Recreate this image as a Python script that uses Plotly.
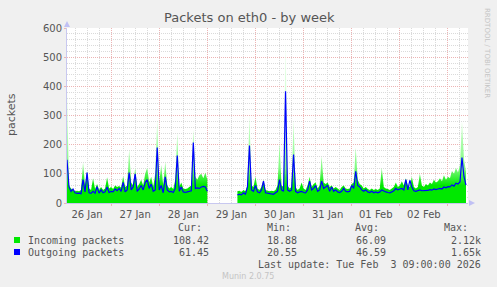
import plotly.graph_objects as go
import pandas as pd

# ---------------- data (hourly samples, Jan 26 02:00 -> Feb 3 09:00) ----------------
start_time = "2026-01-26 02:00"
n_points = 200
times = list(pd.date_range(start_time, periods=n_points, freq="h"))

incoming = [
    390, 60, 50, 45, 40, 42, 40, 45, 139, 60,
    110, 50, 45, 85, 48, 65, 45, 55, 45, 50,
    88, 50, 55, 48, 60, 55, 58, 52, 92, 55,
    60, 183, 70, 60, 120, 55, 65, 80, 60, 100,
    121, 70, 90, 55, 100, 285, 70, 130, 60, 141,
    60, 50, 55, 48, 80, 240, 55, 70, 50, 48,
    50, 55, 60, 252, 90, 80, 95, 100, 85, 105,
    80, None, None, None, None, None, None, None, None, None,
    None, None, None, None, None, 40, 42, 38, 45, 40,
    60, 300, 60, 55, 90, 50, 45, 55, 80, 45,
    42, 40, 42, 40, 45, 60, 207, 60, 55, 560,
    60, 50, 55, 285, 55, 45, 50, 70, 50, 45,
    60, 90, 55, 65, 70, 50, 60, 160, 70, 65,
    70, 55, 60, 50, 55, 50, 45, 55, 60, 50,
    48, 50, 65, 70, 190, 80, 65, 60, 50, 55,
    48, 45, 50, 45, 48, 45, 50, 121, 55, 50,
    48, 45, 50, 55, 70, 55, 60, 75, 60, 85,
    60, 55, 90, 55, 50, 55, 100, 60, 55, 65,
    60, 70, 65, 80, 70, 75, 85, 75, 95, 80,
    90, 85, 110, 100, 120, 105, 130, 280, 150, 108,
]

outgoing = [
    148, 55, 40, 48, 35, 33, 34, 32, 80, 38,
    104, 35, 33, 40, 34, 56, 34, 45, 35, 38,
    55, 36, 40, 38, 48, 42, 50, 40, 71, 38,
    45, 104, 45, 55, 100, 40, 48, 60, 45, 70,
    80, 50, 65, 40, 45, 190, 45, 60, 35, 90,
    45, 38, 40, 36, 50, 163, 40, 55, 38, 36,
    38, 40, 42, 207, 50, 52, 50, 55, 57, 55,
    40, None, None, None, None, None, None, None, None, None,
    None, None, None, None, None, 28, 30, 28, 35, 30,
    55, 197, 45, 40, 60, 38, 35, 45, 75, 35,
    34, 32, 33, 30, 35, 40, 80, 45, 40, 383,
    45, 40, 45, 166, 40, 35, 38, 40, 36, 35,
    45, 75, 45, 50, 60, 40, 45, 75, 50, 55,
    60, 40, 55, 40, 45, 38, 36, 40, 50, 40,
    38, 40, 60, 50, 109, 60, 55, 45, 40, 45,
    38, 36, 40, 35, 38, 35, 38, 45, 40, 38,
    36, 35, 38, 42, 50, 45, 48, 50, 45, 80,
    45, 78, 55, 42, 40, 42, 45, 42, 42, 44,
    43, 46, 44, 48, 46, 48, 50, 48, 55, 52,
    56, 55, 62, 58, 68, 65, 72, 156, 90, 61,
]

y_ticks = [0, 100, 200, 300, 400, 500, 600]

legend_names = ["Incoming packets", "Outgoing packets"]
legend_colors = ["#00e800", "#0000ff"]
stat_headers = ["Cur:", "Min:", "Avg:", "Max:"]
stats_in = ["108.42", "18.88", "66.09", "2.12k"]
stats_out = ["61.45", "20.55", "46.59", "1.65k"]
last_update = "Last update: Tue Feb\u00a0\u00a03 09:00:00 2026"

# ---------------- layout helpers (pixel -> paper) ----------------
L, R, T, B = 67, 468, 28, 203
W, H = 497, 287


def px(x):
    return (x - L) / (R - L)


def py(y):
    return (B - y) / (B - T)


def segments(xs, ys):
    """Split a series at missing samples so that fills/lines break there."""
    segs, cx, cy = [], [], []
    for xv, yv in zip(xs, ys):
        if yv is None:
            if cx:
                segs.append((cx, cy))
            cx, cy = [], []
        else:
            cx.append(xv)
            cy.append(yv)
    if cx:
        segs.append((cx, cy))
    return segs


TEXT = "#555555"
MONO = "DejaVu Sans Mono"
SANS = "DejaVu Sans"
GRID_MAJOR = "#ecb4b4"
GRID_MINOR = "#dadada"
DOTS = "1px,1px"

fig = go.Figure()

for sx, sy in segments(times, incoming):
    fig.add_trace(go.Scatter(
        x=sx, y=sy, mode="none", fill="tozeroy",
        fillgradient=dict(
            type="vertical", start=0, stop=600,
            colorscale=[[0, "#00e800"], [0.1, "#00e800"], [0.2, "#80fa80"],
                        [0.45, "#c8ffc8"], [1, "#f4fff4"]],
        ),
        hoverinfo="skip", showlegend=False,
    ))
for sx, sy in segments(times, outgoing):
    fig.add_trace(go.Scatter(
        x=sx, y=sy, mode="lines",
        line=dict(color="#0000ff", width=1.2),
        hoverinfo="skip", showlegend=False,
    ))

fig.update_layout(
    width=W, height=H,
    margin=dict(l=L, r=W - R, t=T, b=H - B, pad=0),
    paper_bgcolor="#f0f0f0", plot_bgcolor="#ffffff",
    showlegend=False,
)

fig.update_xaxes(
    type="date",
    range=["2026-01-26 02:00", "2026-02-03 10:00"],
    tick0="2026-01-26", dtick=86400000,
    ticklabelmode="period", tickformat="%d %b",
    showgrid=True, gridcolor=GRID_MAJOR, griddash=DOTS, gridwidth=1,
    minor=dict(dtick=6 * 3600000, tick0="2026-01-26", showgrid=True,
               gridcolor=GRID_MINOR, griddash=DOTS, gridwidth=1),
    ticks="outside", ticklen=2, tickcolor=GRID_MAJOR,
    showline=True, linecolor="#c8c8f0", linewidth=1,
    tickfont=dict(family=SANS, size=10, color=TEXT),
    zeroline=False,
)
fig.update_yaxes(
    range=[0, 600], tickvals=y_ticks,
    showgrid=True, gridcolor=GRID_MAJOR, griddash=DOTS, gridwidth=1,
    minor=dict(dtick=20, showgrid=True, gridcolor=GRID_MINOR, griddash=DOTS, gridwidth=1),
    ticks="outside", ticklen=2, tickcolor=GRID_MAJOR,
    showline=True, linecolor="#c8c8f0", linewidth=1,
    tickfont=dict(family=SANS, size=10, color=TEXT),
    zeroline=False,
)

ann = []
ann.append(dict(text="Packets on eth0 - by week", x=px(249), y=py(18), xref="paper", yref="paper",
                xanchor="center", yanchor="middle", showarrow=False,
                font=dict(family=SANS, size=13, color=TEXT)))
ann.append(dict(text="packets", x=px(11), y=py(115), xref="paper", yref="paper",
                xanchor="center", yanchor="middle", showarrow=False, textangle=-90,
                font=dict(family=SANS, size=11, color=TEXT)))
ann.append(dict(text="RRDTOOL / TOBI OETIKER", x=px(487), y=py(53), xref="paper", yref="paper",
                xanchor="center", yanchor="middle", showarrow=False, textangle=90,
                font=dict(family=SANS, size=7, color="#c4c4c4")))
ann.append(dict(text="Munin 2.0.75", x=px(248), y=py(276), xref="paper", yref="paper",
                xanchor="center", yanchor="middle", showarrow=False,
                font=dict(family=SANS, size=8, color="#c4c4c4")))

header_right = [204, 293, 381, 470]
value_right = [211, 299, 388, 483]
for hx, h in zip(header_right, stat_headers):
    ann.append(dict(text=h, x=px(hx), y=py(227), xref="paper", yref="paper",
                    xanchor="right", yanchor="middle", showarrow=False,
                    font=dict(family=MONO, size=10, color=TEXT)))
for row_y, name, vals in [(240, legend_names[0], stats_in), (252, legend_names[1], stats_out)]:
    ann.append(dict(text=name, x=px(26), y=py(row_y), xref="paper", yref="paper",
                    xanchor="left", yanchor="middle", showarrow=False,
                    font=dict(family=MONO, size=10, color=TEXT)))
    for vx, v in zip(value_right, vals):
        ann.append(dict(text=v, x=px(vx), y=py(row_y), xref="paper", yref="paper",
                        xanchor="right", yanchor="middle", showarrow=False,
                        font=dict(family=MONO, size=10, color=TEXT)))
ann.append(dict(text=last_update, x=px(483), y=py(264), xref="paper", yref="paper",
                xanchor="right", yanchor="middle", showarrow=False,
                font=dict(family=MONO, size=10, color=TEXT)))
fig.update_layout(annotations=ann)

shapes = []
for row_y, col in [(240, legend_colors[0]), (252, legend_colors[1])]:
    shapes.append(dict(type="rect", xref="paper", yref="paper",
                       x0=px(14), x1=px(20), y0=py(row_y + 3), y1=py(row_y - 3),
                       fillcolor=col, line=dict(width=0)))
# axis arrows
shapes.append(dict(type="path", xref="paper", yref="paper",
                   path=f"M {px(64)} {py(27)} L {px(67)} {py(21)} L {px(70)} {py(27)} Z",
                   fillcolor="#c0c0f4", line=dict(width=0)))
shapes.append(dict(type="path", xref="paper", yref="paper",
                   path=f"M {px(469)} {py(200)} L {px(475)} {py(203)} L {px(469)} {py(206)} Z",
                   fillcolor="#c0c0f4", line=dict(width=0)))
fig.update_layout(shapes=shapes)

fig.write_html("out.html")
